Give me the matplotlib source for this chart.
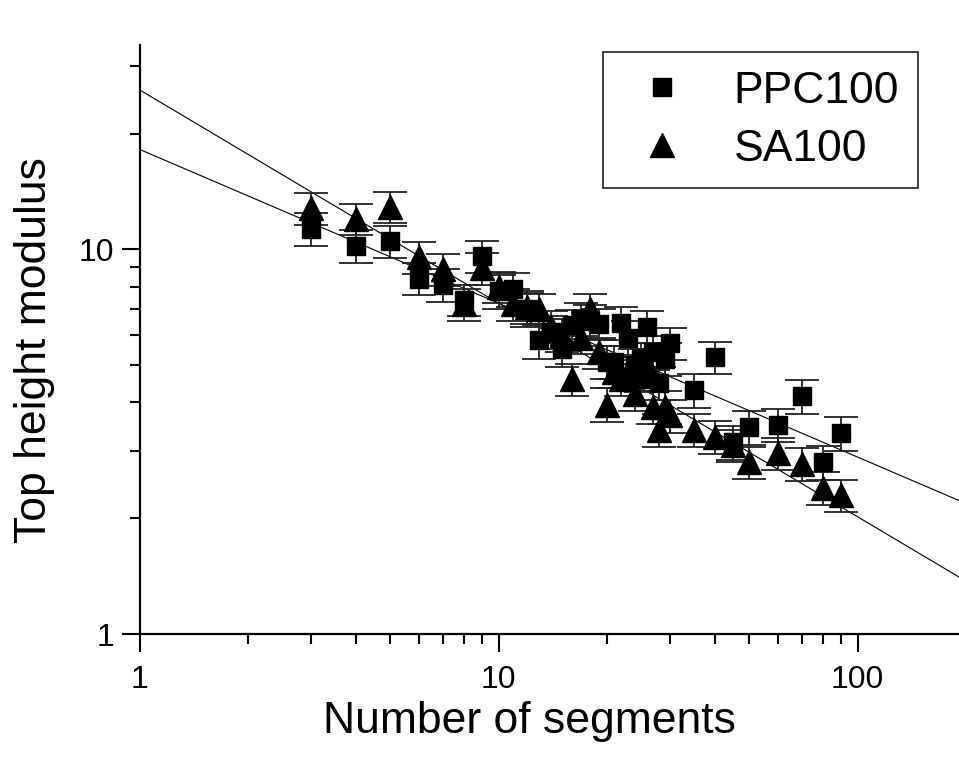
import matplotlib
matplotlib.use("Agg")
import matplotlib.pyplot as plt
from matplotlib.lines import Line2D
import numpy as np

plt.rcParams['font.family'] = ['Liberation Sans', 'DejaVu Sans']

# ---- data ----
ppc_x = [3, 4, 5, 6, 7, 8, 9, 10, 11, 12, 13, 14, 15, 16, 17, 18, 19, 20, 21, 22,
         23, 24, 25, 26, 27, 28, 29, 30, 35, 40, 45, 50, 60, 70, 80, 90]
ppc_y = [11.3, 10.2, 10.5, 8.4, 8.1, 7.4, 9.6, 7.8, 7.9, 7.0, 5.8, 6.1, 5.5, 6.35, 6.6, 6.5, 6.4, 5.1, 5.1, 6.45,
         5.9, 5.0, 5.2, 6.3, 5.4, 4.5, 5.2, 5.7, 4.3, 5.25, 3.15, 3.45, 3.5, 4.15, 2.8, 3.33]
ppc_err = [1.1, 1.0, 1.0, 0.8, 0.8, 0.7, 0.9, 0.8, 0.8, 0.7, 0.6, 0.6, 0.55, 0.6, 0.65, 0.65, 0.6, 0.5, 0.5, 0.65,
           0.6, 0.5, 0.5, 0.6, 0.55, 0.45, 0.5, 0.55, 0.43, 0.5, 0.32, 0.35, 0.35, 0.42, 0.28, 0.33]

sa_x = [3, 4, 5, 6, 7, 8, 9, 10, 11, 12, 13, 14, 15, 16, 17, 18, 19, 20, 21, 22,
        23, 24, 25, 26, 27, 28, 29, 30, 35, 40, 45, 50, 60, 70, 80, 90]
sa_y = [12.8, 12.0, 12.9, 9.55, 8.9, 7.2, 8.95, 8.0, 7.2, 7.1, 7.0, 6.3, 6.0, 4.6, 5.9, 7.0, 5.4, 3.95, 4.8, 4.6,
        4.8, 4.2, 4.7, 5.0, 3.9, 3.4, 3.9, 3.7, 3.4, 3.25, 3.1, 2.8, 2.95, 2.77, 2.4, 2.3]
sa_err = [1.2, 1.1, 1.2, 0.9, 0.85, 0.7, 0.85, 0.75, 0.7, 0.7, 0.65, 0.6, 0.6, 0.45, 0.55, 0.65, 0.5, 0.4, 0.45, 0.45,
          0.45, 0.4, 0.45, 0.5, 0.38, 0.33, 0.38, 0.36, 0.33, 0.32, 0.3, 0.27, 0.28, 0.27, 0.23, 0.22]

# power-law fit lines: y = amp * x**expo
fit_names = ["PPC100", "SA100"]
fit_amp = [18.2, 26.0]
fit_expo = [-0.40, -0.555]

series_labels = ["PPC100", "SA100"]
series_markers = ['s', '^']
series_sizes = [13, 17]

W, H = 959, 763
fig = plt.figure(figsize=(W / 100, H / 100), dpi=100)
x0, x1 = 139.5, 965.6
y0, y1 = 634, 45
ax = fig.add_axes([x0 / W, 1 - y0 / H, (x1 - x0) / W, (y0 - y1) / H])
ax.set_xscale('log')
ax.set_yscale('log')
ax.set_xlim(1, 200)
ax.set_ylim(1, 34)

# fit lines
xl = np.array([1.0, 200.0])
for a, b in zip(fit_amp, fit_expo):
    ax.plot(xl, a * xl ** b, color='black', lw=0.8, zorder=2)

eb_kw = dict(ls='none', ecolor='#222222', elinewidth=1.3, capsize=12, capthick=1.3,
             mfc='black', mec='black', zorder=3)
ax.errorbar(ppc_x, ppc_y, yerr=ppc_err, fmt=series_markers[0], ms=series_sizes[0], **eb_kw)
ax.errorbar(sa_x, sa_y, yerr=sa_err, fmt=series_markers[1], ms=series_sizes[1], **eb_kw)

for s in ['top', 'right']:
    ax.spines[s].set_visible(False)
for s in ['left', 'bottom']:
    ax.spines[s].set_linewidth(1.6)

ax.tick_params(which='major', direction='out', length=13, width=1.5, labelsize=23)
ax.tick_params(axis='x', which='major', pad=9)
ax.tick_params(axis='y', which='major', pad=5)
ax.tick_params(which='minor', direction='out', length=7.5, width=1.5)
ax.xaxis.set_major_locator(matplotlib.ticker.LogLocator(base=10, numticks=10))
ax.xaxis.set_minor_locator(matplotlib.ticker.LogLocator(base=10, subs=np.arange(2, 10), numticks=20))
ax.yaxis.set_minor_locator(matplotlib.ticker.LogLocator(base=10, subs=np.arange(2, 10), numticks=20))
ax.xaxis.set_minor_formatter(matplotlib.ticker.NullFormatter())
ax.yaxis.set_minor_formatter(matplotlib.ticker.NullFormatter())
fmt = matplotlib.ticker.FuncFormatter(lambda v, p: f"{v:g}")
ax.xaxis.set_major_formatter(fmt)
ax.yaxis.set_major_formatter(fmt)

ax.set_xlabel("Number of segments", fontsize=32)
ax.set_ylabel("Top height modulus", fontsize=32)
ax.xaxis.set_label_coords((529 - x0) / (x1 - x0), -(722 - y0) / (y0 - y1), transform=ax.transAxes)
ax.xaxis.label.set_va('center')
ax.yaxis.set_label_coords(-(x0 - 35) / (x1 - x0), (y0 - 350) / (y0 - y1), transform=ax.transAxes)
ax.yaxis.label.set_va('center')

handles = [Line2D([], [], ls='none', marker=m, ms=s, color='black') for m, s in zip(series_markers, series_sizes)]
leg = ax.legend(handles, series_labels, loc='upper left', bbox_to_anchor=(603 / W, 1 - 52 / H),
                bbox_transform=fig.transFigure, borderaxespad=0,
                fontsize=32, frameon=True, fancybox=False, shadow=False,
                handlelength=1.8, handletextpad=0.72, borderpad=0.42, labelspacing=0.38)
leg.get_frame().set_edgecolor('black')
leg.get_frame().set_linewidth(1.3)

fig.savefig("out.png", dpi=100)
